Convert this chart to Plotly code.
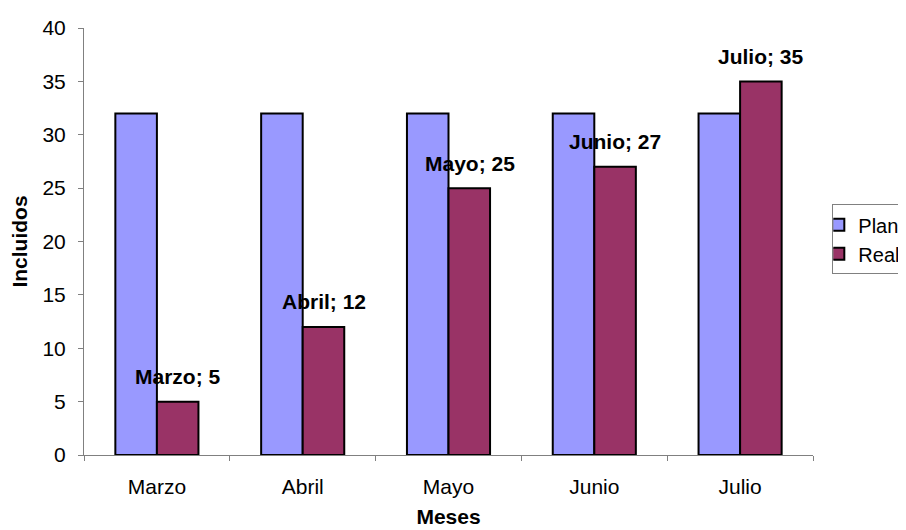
import plotly.graph_objects as go

meses = ['Marzo', 'Abril', 'Mayo', 'Junio', 'Julio']
plan = [32, 32, 32, 32, 32]
real = [5, 12, 25, 27, 35]

fnt = 'Liberation Sans, Arial, sans-serif'

fig = go.Figure()
fig.add_trace(go.Bar(x=meses, y=plan, name='Plan',
                     marker=dict(color='#9999FF', line=dict(color='black', width=2))))
fig.add_trace(go.Bar(x=meses, y=real, name='Real',
                     marker=dict(color='#993366', line=dict(color='black', width=2))))

# etiquetas sobre las barras "Real"
for m, v in zip(meses, real):
    fig.add_annotation(x=m, y=v, text='<b>{}; {}</b>'.format(m, v), showarrow=False,
                       xshift=21, yshift=25, yanchor='middle',
                       font=dict(family=fnt, size=21, color='black'))

# la página deja 8px de margen, así que la figura es algo menor
fig.update_layout(
    width=898, height=522,
    margin=dict(l=76, r=93, t=20, b=75, autoexpand=False),
    plot_bgcolor='white', paper_bgcolor='white',
    barmode='group', bargap=0.43, bargroupgap=0,
    font=dict(family=fnt, size=21, color='black'),
    legend=dict(x=1.0265, y=0.505, xanchor='left', yanchor='middle',
                bordercolor='#808080', borderwidth=1, font=dict(size=20),
                itemwidth=30, indentation=-15, tracegroupgap=0),
    xaxis=dict(title=dict(text='<b>Meses</b>', standoff=12, font=dict(size=21)),
               automargin=False,
               showline=True, linecolor='#808080', linewidth=1,
               ticks='outside', tickson='boundaries', ticklen=5, tickcolor='#808080',
               ticklabelstandoff=13),
    yaxis=dict(title=dict(text='<b>Incluidos</b>', standoff=12, font=dict(size=21)),
               automargin=False,
               range=[0, 40], dtick=5, showgrid=False, zeroline=False,
               showline=True, linecolor='#808080', linewidth=1,
               ticks='outside', ticklen=5, tickcolor='#808080', ticklabelstandoff=8),
)

fig.write_html('out.html')
